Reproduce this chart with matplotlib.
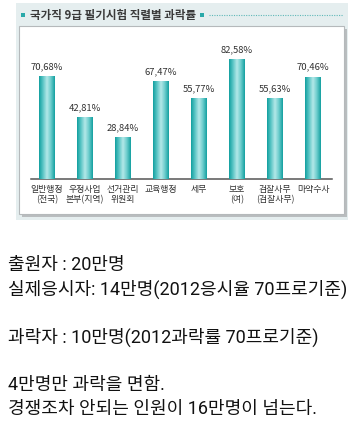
import numpy as np
import matplotlib
matplotlib.use("Agg")
import matplotlib.pyplot as plt
from matplotlib.patches import Rectangle
from matplotlib.colors import LinearSegmentedColormap

# data
categories = ["일반행정\n(전국)", "우정사업\n본부(지역)", "선거관리\n위원회", "교육행정",
              "세무", "보호\n(여)", "검찰사무\n(검찰사무)", "마약수사"]
rates = [70.68, 42.81, 28.84, 67.47, 55.77, 82.58, 55.63, 70.46]
value_labels = ["70,68%", "42,81%", "28,84%", "67,47%", "55,77%", "82,58%", "55,63%", "70,46%"]
title = "국가직 9급 필기시험 직렬별 과락률"
notes = [
    ("출원자 : 20만명", 265),
    ("실제응시자: 14만명(2012응시율 70프로기준)", 289),
    ("과락자 : 10만명(2012과락률 70프로기준)", 337),
    ("4만명만 과락을 면함.", 385),
    ("경쟁조차 안되는 인원이 16만명이 넘는다.", 409),
]

W, H = 364, 445
kr = ["Noto Sans CJK KR", "DejaVu Sans"]
txt = ["Roboto", "Noto Sans CJK KR", "DejaVu Sans"]

fig = plt.figure(figsize=(W / 100, H / 100), dpi=100)
fig.patch.set_facecolor("white")

# background layer in pixel coords
bg = fig.add_axes([0, 0, 1, 1])
bg.set_xlim(0, W)
bg.set_ylim(H, 0)
bg.axis("off")
bg.add_patch(Rectangle((16, 3), 332, 217, facecolor="#e5eeef", edgecolor="none"))
bg.add_patch(Rectangle((22, 29), 325, 188, facecolor="#b9bdbf", edgecolor="none"))
bg.add_patch(Rectangle((19, 26), 325, 188, facecolor="white", edgecolor="#b5b9bb", lw=0.8))
bg.add_patch(Rectangle((21, 12.5), 4, 4, facecolor="#2aa9a9", edgecolor="none"))
bg.text(30, 15, title, fontsize=8.3, fontweight="bold", color="#3a3a3a",
        family=kr, va="center", ha="left")
bg.add_patch(Rectangle((200, 12.5), 4, 4, facecolor="#2aa9a9", edgecolor="none"))
bg.plot([209, 343], [15, 15], color="#5fb8b8", lw=0.8, ls=(0, (1, 1.2)))

# bar chart axes: bar i centred at pixel 47 + 38*i, baseline at pixel 179
px_per = 120 / 82.58
left_px, right_px, top_px, base_px = 31, 332, 40, 179
ax = fig.add_axes([left_px / W, 1 - base_px / H, (right_px - left_px) / W, (base_px - top_px) / H])
ax.patch.set_alpha(0)
x = np.arange(len(rates))
bars = ax.bar(x, rates, width=16 / 38, color="#25a9a9", zorder=2)

cmap = LinearSegmentedColormap.from_list("teal", ["#12a0a0", "#5cc6c6", "#b4e8e8", "#6ccccc", "#14a0a0"])
grad = np.linspace(0, 1, 64).reshape(1, -1)
for b in bars:
    x0, w, h = b.get_x(), b.get_width(), b.get_height()
    im = ax.imshow(grad, extent=[x0, x0 + w, 0, h], aspect="auto", cmap=cmap, zorder=3)
    im.set_clip_path(b)

for i, (v, lab) in enumerate(zip(rates, value_labels)):
    ax.annotate(lab, (i, v), xytext=(0, 3.5), textcoords="offset points", ha="center",
                va="bottom", fontsize=6.8, color="#333333", family=kr)

ax.set_xlim((left_px - 47) / 38, (right_px - 47) / 38)
ax.set_ylim(0, (base_px - top_px) / px_per)
for s in ["top", "right", "left"]:
    ax.spines[s].set_visible(False)
ax.spines["bottom"].set_color("#555555")
ax.spines["bottom"].set_linewidth(1.1)
ax.set_yticks([])
ax.set_xticks(x)
ax.set_xticklabels(categories, fontsize=6.4, color="#333333", family=kr, linespacing=1.25)
ax.tick_params(axis="x", length=0, pad=4)

# notes below
for line, ypx in notes:
    fig.text(8 / W, 1 - ypx / H, line, fontsize=13, color="#111111", family=txt,
             ha="left", va="center")

fig.savefig("out.png", dpi=100)
